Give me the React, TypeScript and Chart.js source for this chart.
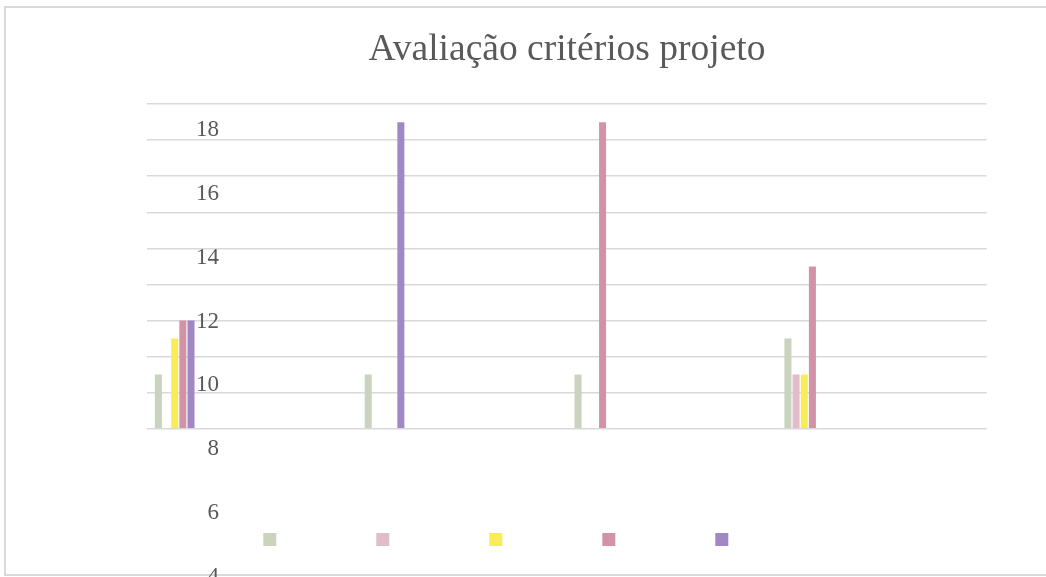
import React, { useEffect, useRef } from 'react';
import { Chart, registerables } from 'chart.js';

Chart.register(...registerables);

// ---- data ----
const chartTitle = 'Avaliação critérios projeto';
const categories = ['1', '2', '3', '4'];
const seriesNames = ['', '', '', '', ''];
const seriesGreen = [3, 3, 3, 5];
const seriesLightPink = [null, null, null, 3];
const seriesYellow = [5, null, null, 3];
const seriesPink = [6, null, 17, 9];
const seriesPurple = [6, 17, null, null];
const seriesColors = ['#c9d3be', '#e1bdc9', '#f9ec59', '#d293a7', '#a088c4'];
const gridMin = 0;
const gridMax = 18;
const gridStep = 2;
const yTickLabels = [4, 6, 8, 10, 12, 14, 16, 18];
const emptySeriesCount = 19;

const FONT = "'Liberation Serif', 'Times New Roman', serif";
const TEXT = '#595959';
const GRID = '#d9d9d9';

export default function App() {
  const ref = useRef<HTMLCanvasElement | null>(null);

  useEffect(() => {
    document.body.style.margin = '0';
    const canvas = ref.current;
    if (!canvas) return;

    const realSeries = [seriesGreen, seriesLightPink, seriesYellow, seriesPink, seriesPurple];
    const datasets: any[] = realSeries.map((d, i) => ({
      label: seriesNames[i],
      data: d,
      backgroundColor: seriesColors[i],
      borderWidth: 0,
      barPercentage: 0.86,
      categoryPercentage: 0.9333,
      yAxisID: 'y',
    }));
    for (let i = 0; i < emptySeriesCount; i++) {
      datasets.push({
        label: '',
        data: categories.map(() => null),
        backgroundColor: 'rgba(0,0,0,0)',
        borderWidth: 0,
        barPercentage: 0.86,
        categoryPercentage: 0.9333,
        yAxisID: 'y',
      });
    }

    const chart = new Chart(canvas, {
      type: 'bar',
      data: { labels: categories, datasets },
      options: {
        responsive: false,
        animation: false,
        layout: { padding: { left: 11.4, right: 59.3, top: 0, bottom: 21 } },
        plugins: {
          title: {
            display: true,
            text: chartTitle,
            fullSize: false,
            color: TEXT,
            font: { family: FONT, size: 37.5, weight: 'normal' },
            padding: { top: 27.4, bottom: 31.7 },
          },
          legend: {
            display: true,
            position: 'bottom',
            align: 'center',
            labels: {
              boxWidth: 13,
              boxHeight: 13,
              padding: 93.5,
              font: { family: FONT, size: 13 },
              color: TEXT,
              filter: (item: any) => item.datasetIndex < 5,
            },
          },
          tooltip: { enabled: false },
        },
        scales: {
          x: {
            type: 'category',
            offset: true,
            grid: { display: false },
            border: { display: false },
            ticks: { display: false },
            afterFit: (s: any) => {
              s.height = 10.8;
            },
          },
          y: {
            type: 'linear',
            position: 'left',
            weight: 2,
            min: gridMin,
            max: gridMax,
            ticks: { display: false, stepSize: gridStep },
            grid: { color: GRID, lineWidth: 1.5, drawTicks: false },
            border: { display: false },
            afterFit: (s: any) => {
              s.width = 135.9;
            },
          },
          y2: {
            type: 'linear',
            position: 'left',
            weight: 0,
            min: 8.638,
            max: 18.817,
            grid: { display: false, drawTicks: false },
            border: { display: false },
            afterBuildTicks: (axis: any) => {
              axis.ticks = yTickLabels.map((v) => ({ value: v }));
            },
            ticks: {
              mirror: true,
              crossAlign: 'far',
              padding: 48.7,
              autoSkip: false,
              color: TEXT,
              font: { family: FONT, size: 23 },
            },
            afterFit: (s: any) => {
              s.width = 0;
            },
          },
        },
      } as any,
    });

    return () => chart.destroy();
  }, []);

  return (
    <div style={{ position: 'relative', width: 1046, height: 577, overflow: 'hidden', background: '#fff' }}>
      <div
        style={{
          position: 'absolute',
          left: 4,
          top: 6,
          width: 1042,
          height: 570,
          borderLeft: `2px solid ${GRID}`,
          borderTop: `2px solid ${GRID}`,
          borderBottom: `2px solid ${GRID}`,
          boxSizing: 'border-box',
        }}
      />
      <canvas ref={ref} width={1046} height={577} style={{ position: 'absolute', left: 0, top: 0 }} />
    </div>
  );
}
